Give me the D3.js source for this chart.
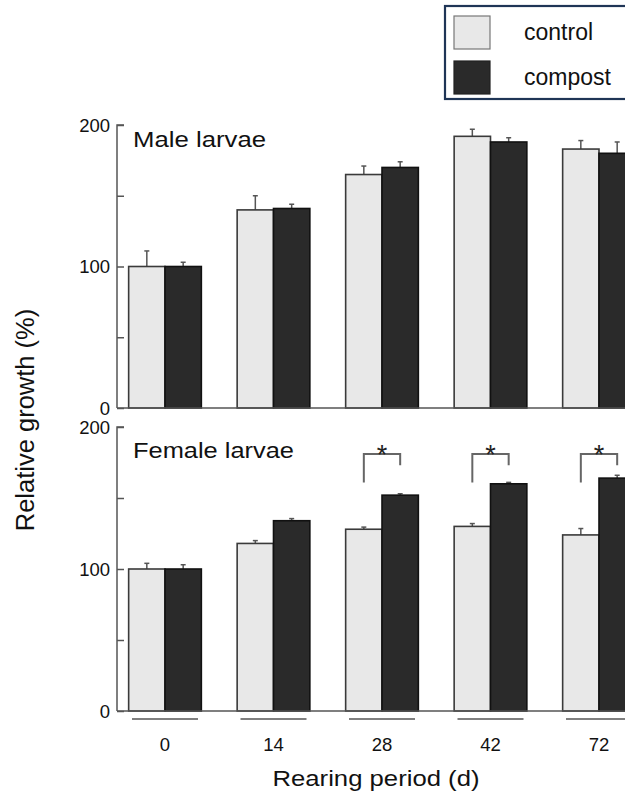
<!DOCTYPE html>
<html>
<head>
<meta charset="utf-8">
<script src="https://cdn.jsdelivr.net/npm/d3@7"></script>
<style>
  html, body { margin: 0; padding: 0; background: #fff; }
  svg { display: block; font-family: "Liberation Sans", Arial, Helvetica, sans-serif; }
</style>
</head>
<body>
<svg id="chart" width="625" height="796"></svg>
<script>
// Rearing periods (days)
const periods = ["0", "14", "28", "42", "72"];
const treatments = ["control", "compost"];

// Relative growth (%) and upper error (SE), male larvae
const maleControl = [100, 140, 165, 192, 183];
const maleControlErr = [11, 10, 6, 5, 6];
const maleCompost = [100, 141, 170, 188, 180];
const maleCompostErr = [3, 3, 4, 3, 8];

// Relative growth (%) and upper error (SE), female larvae
const femaleControl = [100, 118, 128, 130, 124];
const femaleControlErr = [4, 2, 1.5, 2, 4.5];
const femaleCompost = [100, 134, 152, 160, 164];
const femaleCompostErr = [3, 1.5, 1, 1, 2];

// Significant differences (female larvae) and bracket levels in %
const femaleSignif = ["28", "42", "72"];
const bracketTop = 181, bracketLeftEnd = 161, bracketRightEnd = 173;

const yTicks = [0, 50, 100, 150, 200];
const yTickLabels = [0, 100, 200];

const colors = { control: "#e8e8e8", compost: "#2a2a2a" };
const strokes = { control: "#3a3a3a", compost: "#111" };

const svg = d3.select("#chart");

const axisX = 117;
const x = d3.scaleBand().domain(periods).range([110.75, 653.25])
  .paddingInner(0.33).paddingOuter(0.165);
const xs = d3.scaleBand().domain(treatments).range([0, x.bandwidth()]);

const panels = [
  { title: "Male larvae", titleDy: 22, titleLen: 133,
    y: d3.scaleLinear().domain([0, 200]).range([408, 125]),
    values: { control: maleControl, compost: maleCompost },
    errs: { control: maleControlErr, compost: maleCompostErr }, signif: [] },
  { title: "Female larvae", titleDy: 31, titleLen: 161,
    y: d3.scaleLinear().domain([0, 200]).range([711, 427]),
    values: { control: femaleControl, compost: femaleCompost },
    errs: { control: femaleControlErr, compost: femaleCompostErr }, signif: femaleSignif }
];

panels.forEach(p => {
  const g = svg.append("g");
  const y = p.y;
  const rows = [];
  periods.forEach((per, i) => treatments.forEach(t =>
    rows.push({ per, t, v: p.values[t][i], e: p.errs[t][i] })));

  // error bars (upper only)
  const eb = g.selectAll("g.err").data(rows).join("g").attr("class", "err");
  eb.append("line")
    .attr("x1", d => x(d.per) + xs(d.t) + xs.bandwidth() / 2)
    .attr("x2", d => x(d.per) + xs(d.t) + xs.bandwidth() / 2)
    .attr("y1", d => y(d.v)).attr("y2", d => y(d.v + d.e))
    .attr("stroke", "#555").attr("stroke-width", 1.5);
  eb.append("line")
    .attr("x1", d => x(d.per) + xs(d.t) + xs.bandwidth() / 2 - 2.5)
    .attr("x2", d => x(d.per) + xs(d.t) + xs.bandwidth() / 2 + 2.5)
    .attr("y1", d => y(d.v + d.e)).attr("y2", d => y(d.v + d.e))
    .attr("stroke", "#555").attr("stroke-width", 1.5);

  // bars
  g.selectAll("rect.bar").data(rows).join("rect").attr("class", "bar")
    .attr("x", d => x(d.per) + xs(d.t))
    .attr("width", xs.bandwidth())
    .attr("y", d => y(d.v))
    .attr("height", d => y(0) - y(d.v))
    .attr("fill", d => colors[d.t])
    .attr("stroke", d => strokes[d.t])
    .attr("stroke-width", 1.6);

  // y axis
  const ya = g.append("g").attr("transform", `translate(${axisX},0)`)
    .call(d3.axisRight(y).tickValues(yTicks).tickSize(7).tickFormat(""));
  ya.select(".domain").attr("stroke", "#555").attr("stroke-width", 1.5)
    .attr("d", `M7,${y(200)}H0V${y(0)}`);
  ya.selectAll(".tick line").attr("stroke", "#555").attr("stroke-width", 1.5);
  g.selectAll("text.ytl").data(yTickLabels).join("text").attr("class", "ytl")
    .attr("x", axisX - 7).attr("y", d => y(d)).attr("dy", "0.36em")
    .attr("text-anchor", "end").attr("font-size", 18.5).attr("fill", "#111")
    .text(d => d);

  // baseline
  g.append("line").attr("x1", axisX).attr("x2", 625)
    .attr("y1", y(0)).attr("y2", y(0))
    .attr("stroke", "#555").attr("stroke-width", 1.5);

  // panel title
  g.append("text").attr("x", 133).attr("y", y(200) + p.titleDy)
    .attr("font-size", 22).attr("fill", "#111")
    .attr("textLength", p.titleLen)
    .attr("lengthAdjust", "spacingAndGlyphs")
    .text(p.title);

  // significance brackets
  p.signif.forEach(per => {
    const xl = x(per) + xs("control") + xs.bandwidth() / 2;
    const xr = x(per) + xs("compost") + xs.bandwidth() / 2;
    g.append("path")
      .attr("d", `M${xl},${y(bracketLeftEnd)}V${y(bracketTop)}H${xr}V${y(bracketRightEnd)}`)
      .attr("fill", "none").attr("stroke", "#666").attr("stroke-width", 2);
    g.append("text").attr("x", (xl + xr) / 2).attr("y", y(bracketTop) + 10)
      .attr("text-anchor", "middle").attr("font-size", 27).attr("fill", "#222")
      .text("*");
  });
});

// x group underlines and labels
const xg = svg.append("g");
xg.selectAll("line").data(periods).join("line")
  .attr("x1", d => x(d) + x.bandwidth() / 2 - 33)
  .attr("x2", d => x(d) + x.bandwidth() / 2 + 33)
  .attr("y1", 719).attr("y2", 719)
  .attr("stroke", "#555").attr("stroke-width", 1.5);
xg.selectAll("text").data(periods).join("text")
  .attr("x", d => x(d) + x.bandwidth() / 2).attr("y", 751)
  .attr("text-anchor", "middle").attr("font-size", 18.5).attr("fill", "#111")
  .text(d => d);

// axis titles
svg.append("text").attr("x", 376).attr("y", 786)
  .attr("text-anchor", "middle").attr("font-size", 22).attr("fill", "#111")
  .attr("textLength", 207).attr("lengthAdjust", "spacingAndGlyphs")
  .text("Rearing period (d)");
svg.append("text")
  .attr("transform", "translate(34,420) rotate(-90)")
  .attr("text-anchor", "middle").attr("font-size", 25.5).attr("fill", "#111")
  .text("Relative growth (%)");

// legend
const lg = svg.append("g");
lg.append("rect").attr("x", 445).attr("y", 6).attr("width", 200).attr("height", 93)
  .attr("fill", "#fff").attr("stroke", "#1f3556").attr("stroke-width", 2.2);
treatments.forEach((t, i) => {
  lg.append("rect").attr("x", 454).attr("y", 16 + i * 45).attr("width", 36).attr("height", 33)
    .attr("fill", colors[t]).attr("stroke", t === "control" ? "#777" : "#222").attr("stroke-width", 1.2);
  lg.append("text").attr("x", 524).attr("y", 32 + i * 45).attr("dy", "0.36em")
    .attr("font-size", 23).attr("fill", "#111").text(t);
});
</script>
</body>
</html>
